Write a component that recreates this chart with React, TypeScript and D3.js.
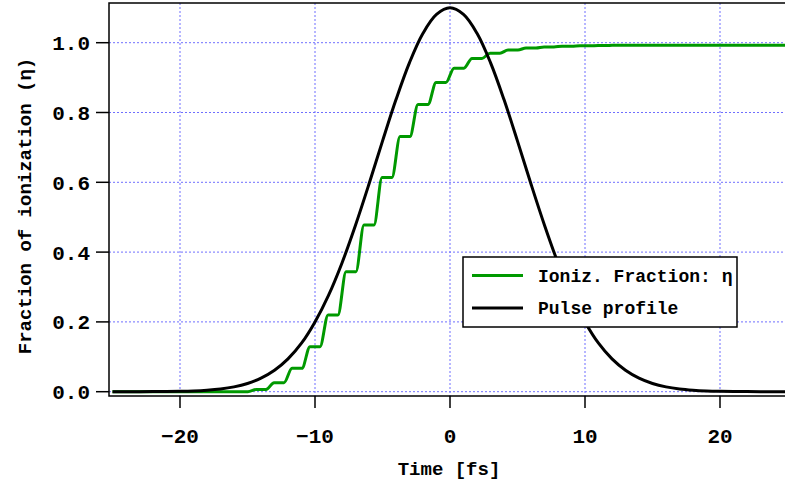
import React from "react";
import * as d3 from "d3";

const W = 785;
const H = 483;

// Laser pulse intensity envelope (normalised), sampled every 1 fs
const pulseTimes = [
  -25, -24, -23, -22, -21, -20, -19, -18, -17, -16, -15, -14, -13, -12, -11, -10, -9, -8, -7, -6, -5, -4, -3, -2, -1,
  0, 1, 2, 3, 4, 5, 6, 7, 8, 9, 10, 11, 12, 13, 14, 15, 16, 17, 18, 19, 20, 21, 22, 23, 24, 25,
];
const pulseValues = [
  0.0, 0.0001, 0.0001, 0.0003, 0.0006, 0.0012, 0.0023, 0.0044, 0.0079, 0.0139, 0.0236, 0.0388, 0.0615, 0.094, 0.139,
  0.2, 0.276, 0.369, 0.477, 0.595, 0.718, 0.837, 0.943, 1.027, 1.081,
  1.1, 1.081, 1.027, 0.943, 0.837, 0.718, 0.595, 0.477, 0.369, 0.276, 0.2, 0.139, 0.094, 0.0615, 0.0388, 0.0236,
  0.0139, 0.0079, 0.0044, 0.0023, 0.0012, 0.0006, 0.0003, 0.0001, 0.0001, 0.0,
];

// Ionization fraction: half-cycle steps (time of each jump, level reached after it)
const ionStartLevel = 0.0;
const ionStepTimes = [
  -14.67, -13.33, -12.0, -10.67, -9.33, -8.0, -6.67, -5.33, -4.0, -2.67, -1.33, 0.0, 1.33, 2.67, 4.0, 5.33, 6.67,
  8.0, 9.33, 10.67, 12.0,
];
const ionLevels = [
  0.006, 0.026, 0.067, 0.129, 0.22, 0.344, 0.478, 0.614, 0.731, 0.823, 0.886, 0.927, 0.955, 0.97, 0.979, 0.985,
  0.988, 0.99, 0.991, 0.992, 0.993,
];

const xTicks = [-20, -10, 0, 10, 20];
const yTicks = [0.0, 0.2, 0.4, 0.6, 0.8, 1.0];

const seriesNames = ["Ioniz. Fraction: \u03b7", "Pulse profile"];
const seriesColors = ["#009900", "#000000"];

const xTitle = "Time [fs]";
const yTitle = "Fraction of ionization (\u03b7)";

const FONT = "'Liberation Mono', 'DejaVu Sans Mono', monospace";

export default function App() {
  const x = d3.scaleLinear().domain([-25, 25]).range([112.5, 787.5]);
  const y = d3.scaleLinear().domain([0, 1]).range([391.7, 42.7]);

  const frameLeft = 109;
  const frameTop = 3;
  const frameBottom = 396;
  const frameRight = 790;

  // Staircase points: flat plateaus joined by short smooth risers
  const rise = 0.3;
  const ionPts: [number, number][] = [[-25, ionStartLevel]];
  let prev = ionStartLevel;
  ionStepTimes.forEach((t, i) => {
    ionPts.push([t - rise, prev]);
    ionPts.push([t + rise, ionLevels[i]]);
    prev = ionLevels[i];
  });
  ionPts.push([25, prev]);

  const ionLine = d3
    .line<[number, number]>()
    .x((d) => x(d[0]))
    .y((d) => y(d[1]))
    .curve(d3.curveMonotoneX);

  const pulsePts: [number, number][] = pulseTimes.map((t, i) => [t, pulseValues[i]]);
  const pulseLine = d3
    .line<[number, number]>()
    .x((d) => x(d[0]))
    .y((d) => y(d[1]))
    .curve(d3.curveCatmullRom);

  const fmtY = d3.format(".1f");
  const fmtX = (v: number) => (v < 0 ? "\u2212" + Math.abs(v) : String(v));

  const gridColor = "#6f6fff";

  const lg = { x: 463, y: 257, w: 274, h: 70 };

  return (
    <svg
      width={W}
      height={H}
      style={{ position: "fixed", left: 0, top: 0, background: "#fff" }}
      fontFamily={FONT}
      fontWeight="bold"
    >
      <rect x={0} y={0} width={W} height={H} fill="#fff" />
      <defs>
        <clipPath id="plotClip">
          <rect x={frameLeft} y={frameTop} width={frameRight - frameLeft} height={frameBottom - frameTop} />
        </clipPath>
      </defs>

      {/* grid */}
      <g stroke={gridColor} strokeWidth={1} strokeDasharray="2,2">
        {xTicks.map((t) => (
          <line key={"gx" + t} x1={x(t)} x2={x(t)} y1={frameTop} y2={frameBottom} />
        ))}
        {yTicks.map((t) => (
          <line key={"gy" + t} x1={frameLeft} x2={frameRight} y1={y(t)} y2={y(t)} />
        ))}
      </g>

      {/* curves */}
      <g clipPath="url(#plotClip)" fill="none" strokeLinejoin="round">
        <path d={ionLine(ionPts) || ""} stroke={seriesColors[0]} strokeWidth={3} />
        <path d={pulseLine(pulsePts) || ""} stroke={seriesColors[1]} strokeWidth={3} />
      </g>

      {/* frame */}
      <path
        d={`M${frameRight},${frameTop}H${frameLeft}V${frameBottom}H${frameRight}`}
        fill="none"
        stroke="#000"
        strokeWidth={1.5}
      />

      {/* y axis ticks and labels */}
      {yTicks.map((t) => (
        <g key={"yt" + t}>
          <line x1={96} x2={frameLeft} y1={y(t)} y2={y(t)} stroke="#000" strokeWidth={1.5} />
          <text x={90} y={y(t)} dy="0.36em" textAnchor="end" fontSize={21} fill="#000">
            {fmtY(t)}
          </text>
        </g>
      ))}

      {/* x axis ticks and labels */}
      {xTicks.map((t) => (
        <g key={"xt" + t}>
          <line x1={x(t)} x2={x(t)} y1={frameBottom} y2={408} stroke="#000" strokeWidth={1.5} />
          <text x={x(t)} y={443} textAnchor="middle" fontSize={21} fill="#000">
            {fmtX(t)}
          </text>
        </g>
      ))}

      <text x={449} y={475} textAnchor="middle" fontSize={19} fill="#000">
        {xTitle}
      </text>
      <text
        transform={`translate(31,206) rotate(-90)`}
        textAnchor="middle"
        fontSize={19}
        fill="#000"
      >
        {yTitle}
      </text>

      {/* legend */}
      <g>
        <rect x={lg.x} y={lg.y} width={lg.w} height={lg.h} fill="#fff" stroke="#000" strokeWidth={1.5} />
        {seriesNames.map((name, i) => {
          const yy = lg.y + 18.5 + i * 32.5;
          return (
            <g key={name}>
              <line x1={lg.x + 9} x2={lg.x + 60} y1={yy} y2={yy} stroke={seriesColors[i]} strokeWidth={3} />
              <text x={lg.x + 75} y={yy} dy="0.35em" fontSize={18} fill="#000">
                {name}
              </text>
            </g>
          );
        })}
      </g>
    </svg>
  );
}
